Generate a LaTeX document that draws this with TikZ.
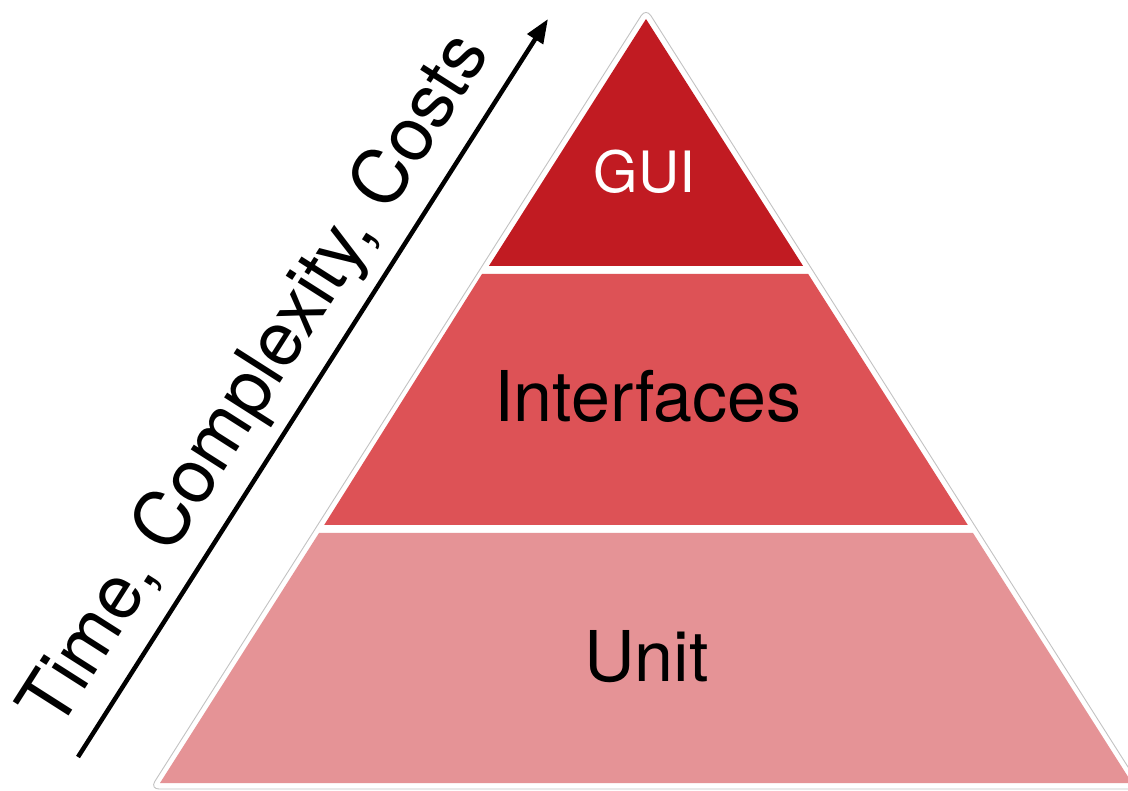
\documentclass[tikz,border=0pt]{standalone}
\usepackage{fontspec}
\setmainfont{TeX Gyre Heros}
\usetikzlibrary{arrows.meta}
\definecolor{guired}{RGB}{193,27,34}
\definecolor{ifred}{RGB}{221,82,86}
\definecolor{unitred}{RGB}{229,147,150}
\definecolor{outlinegray}{RGB}{195,195,195}
\tikzset{
  lbl/.style={anchor=base, inner sep=0pt, font=\fontsize{70pt}{80pt}\selectfont},
  axisarrow/.style={line width=4.5pt, -{Triangle[length=24pt,width=18pt]}},
}
\begin{document}
\begin{tikzpicture}[x=1pt,y=-1pt]
\path[use as bounding box, fill=white] (0,0) rectangle (1128,791);
\begin{scope}
\clip (0,0) rectangle (1128,791);
% outline
\draw[outlinegray, line width=0.9pt, rounded corners=9pt] (646,8) -- (1142,789) -- (150,789) -- cycle;
% layers
\fill[guired] (646,19) -- (803.1,266) -- (488.9,266) -- cycle;
\fill[ifred] (482,274) -- (808.2,274) -- (967.8,525) -- (324.2,525) -- cycle;
\fill[unitred] (319,533) -- (973,533) -- (1132,783) -- (160,783) -- cycle;
\end{scope}
\node[lbl, text=white, font=\fontsize{57pt}{66pt}\selectfont] (gui) at (644.5,193) {GUI};
\node[lbl] (interfaces) at (648,422) {Interfaces};
\node[lbl] (unit) at (646.5,681) {Unit};
% axis arrow
\coordinate (tail) at (78,757);
\coordinate (tip) at (548,19);
\draw[axisarrow] (tail) -- (tip);
\node[lbl, rotate=57.5, font=\fontsize{75pt}{86pt}\selectfont] (axislabel) at (274.5,392.7) {Time, Complexity, Costs};
\end{tikzpicture}
\end{document}
